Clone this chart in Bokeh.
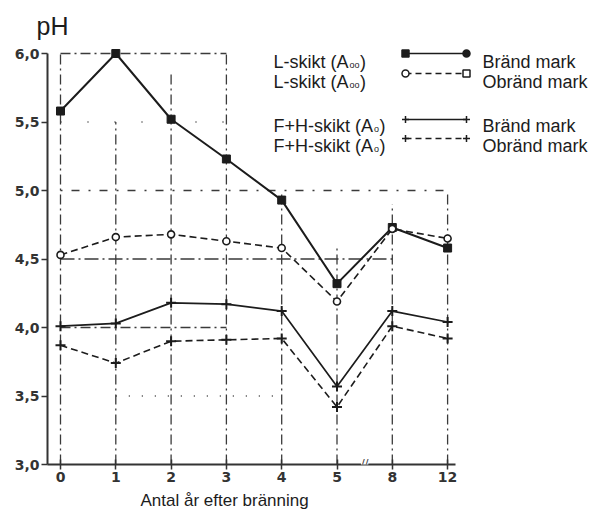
from bokeh.plotting import figure
from bokeh.models import Range1d, FixedTicker, Label, CustomJSTickFormatter, Title
from bokeh.embed import file_html
from bokeh.resources import INLINE

# ---------------- data ----------------
x_labels = ["0", "1", "2", "3", "4", "5", "8", "12"]
l_burnt = [5.58, 6.00, 5.52, 5.23, 4.93, 4.32, 4.73, 4.58]
l_unburnt = [4.53, 4.66, 4.68, 4.63, 4.58, 4.19, 4.72, 4.65]
fh_burnt = [4.01, 4.03, 4.18, 4.17, 4.12, 3.57, 4.12, 4.04]
fh_unburnt = [3.87, 3.74, 3.90, 3.91, 3.92, 3.42, 4.01, 3.92]
y_ticks = [3.0, 3.5, 4.0, 4.5, 5.0, 5.5, 6.0]

legend_left = ["L-skikt (A", "L-skikt (A", "F+H-skikt (A", "F+H-skikt (A"]
legend_sub = ["oo", "oo", "o", "o"]
legend_right = ["Bränd mark", "Obränd mark", "Bränd mark", "Obränd mark"]

# partial (scan-like) grid pieces
hgrid_y = [6.0, 5.5, 5.0, 4.5, 4.0, 3.5]
hgrid_from = [0, 0, 0, 0, 0, 1]
hgrid_to = [3, 3, 7, 6, 3, 4]
hgrid_dash = ["10 4 2 4", "1 26", "2 9 8 9", "14 4 2 4", "10 4 2 4", "1 12"]
vgrid_top = [6.0, 5.5, 5.85, 6.0, 5.0, 4.6, 4.9, 5.0]

# ---------------- layout constants (pixels) ----------------
W, H = 592, 513
FL, FR, FT, FB = 47, 592, 47, 464
X0, DX = 60.0, 55.3
Y0, DY = 3.0, 137.0


def xd(px):
    return (px - X0) / DX


def yd(py):
    return Y0 + (FB - py) / DY


ARIAL = {"L": .556, "-": .333, "s": .5, "k": .5, "i": .222, "t": .278, " ": .278,
         "(": .333, "A": .667, "F": .611, "+": .584, "H": .722, "o": .556, ")": .333}


def tw(s, size):
    return sum(ARIAL[c] for c in s) * size


INK = "#1c1c1c"
xs = list(range(len(x_labels)))

p = figure(width=W, height=H, output_backend="svg", toolbar_location=None,
           x_range=Range1d(xd(FL), xd(FR)), y_range=Range1d(Y0, yd(FT)),
           min_border_left=FL, min_border_right=W - FR, min_border_top=FT,
           min_border_bottom=H - FB)
p.outline_line_color = None
p.grid.visible = False
p.background_fill_color = "white"
p.border_fill_color = "white"

# ---------------- grid ----------------
for xv, top in zip(xs, vgrid_top):
    p.segment(x0=[xv], y0=[Y0], x1=[xv], y1=[top], line_color="#3a3a3a",
              line_width=1.3, line_dash="10 4 2 4")
for yv, a, b, dash in zip(hgrid_y, hgrid_from, hgrid_to, hgrid_dash):
    p.segment(x0=[a], y0=[yv], x1=[b], y1=[yv], line_color="#3a3a3a",
              line_width=1.3, line_dash=dash)

# ---------------- data series ----------------
p.line(xs, l_burnt, line_color=INK, line_width=2)
p.scatter(xs, l_burnt, marker="square", size=8, fill_color=INK, line_color=INK)
p.line(xs, l_unburnt, line_color=INK, line_width=1.6, line_dash="7 4")
p.scatter(xs, l_unburnt, marker="circle", size=7, fill_color="white",
          line_color=INK, line_width=1.6)
p.line(xs, fh_burnt, line_color=INK, line_width=1.7)
p.scatter(xs, fh_burnt, marker="cross", size=10, line_color=INK, line_width=2)
p.line(xs, fh_unburnt, line_color=INK, line_width=1.6, line_dash="7 4")
p.scatter(xs, fh_unburnt, marker="cross", size=10, line_color=INK, line_width=2)

# ---------------- axes ----------------
p.yaxis.ticker = FixedTicker(ticks=y_ticks)
p.yaxis.formatter = CustomJSTickFormatter(code="return tick.toFixed(1).replace('.', ',')")
p.yaxis.bounds = (3.0, 6.0)
p.yaxis.major_tick_out = 6
p.yaxis.major_tick_in = 0
p.yaxis.major_label_standoff = 2

p.xaxis.ticker = FixedTicker(ticks=xs)
p.xaxis.major_label_overrides = {i: lab for i, lab in zip(xs, x_labels)}
p.xaxis.bounds = (xd(FL), xd(455))
p.xaxis.major_tick_out = 5
p.xaxis.major_tick_in = 5
p.xaxis.major_label_standoff = 2

for ax in (p.xaxis[0], p.yaxis[0]):
    ax.minor_tick_line_color = None
    ax.axis_line_width = 2
    ax.axis_line_color = "#333333"
    ax.major_tick_line_color = "#333333"
    ax.major_tick_line_width = 1.5
    ax.major_label_text_font = "DejaVu Sans"
    ax.major_label_text_font_style = "bold"
    ax.major_label_text_font_size = "14px"
    ax.major_label_text_color = "#333333"

# ---------------- titles ----------------
p.title.text = "pH"
p.title.align = "left"
p.title.offset = 36 - FL
p.title.text_font = "Liberation Sans"
p.title.text_font_size = "25px"
p.title.text_font_style = "normal"
p.title.text_color = INK
p.title.standoff = 16

p.add_layout(Title(text="Antal år efter bränning", align="left", offset=140 - FL,
                   text_font="Liberation Sans", text_font_size="17px",
                   text_font_style="normal", text_color=INK, standoff=8), "below")

# axis break mark
p.add_layout(Label(x=5.5, y=yd(FB - 1), text="//", text_align="center", text_baseline="middle",
                   text_font="DejaVu Sans", text_font_size="11px", text_color="#333333",
                   background_fill_color="white"))

# ---------------- legend ----------------
row_sym = [53, 73, 119, 138]
row_base = [61, 81, 125, 145]
sx0, sx1 = 405, 466
left_x, right_x = 273, 482
MAIN, SUB = 18, 9
sym_dash = ["solid", "6 4", "solid", "6 4"]
left_mk = ["square", "circle", "cross", "cross"]
right_mk = ["circle", "square", "cross", "cross"]
mk_fill = [INK, "white", INK, INK]

for i in range(4):
    ys = yd(row_sym[i])
    p.segment(x0=[xd(sx0)], y0=[ys], x1=[xd(sx1)], y1=[ys], line_color=INK,
              line_width=1.6, line_dash=sym_dash[i])
    for mk, px in ((left_mk[i], sx0), (right_mk[i], sx1)):
        p.scatter([xd(px)], [ys], marker=mk, size=7,
                  fill_color=mk_fill[i], line_color=INK, line_width=1.5)
    yb = yd(row_base[i])
    p.add_layout(Label(x=xd(left_x), y=yb, text=legend_left[i], text_font="Liberation Sans",
                       text_font_size=f"{MAIN}px", text_color=INK, text_baseline="alphabetic"))
    xsub = left_x + tw(legend_left[i], MAIN) + 1
    p.add_layout(Label(x=xd(xsub), y=yd(row_base[i] + 3), text=legend_sub[i],
                       text_font="Liberation Sans", text_font_size=f"{SUB}px",
                       text_color=INK, text_baseline="alphabetic"))
    xpar = xsub + tw(legend_sub[i], SUB) + 0.5
    p.add_layout(Label(x=xd(xpar), y=yb, text=")", text_font="Liberation Sans",
                       text_font_size=f"{MAIN}px", text_color=INK, text_baseline="alphabetic"))
    p.add_layout(Label(x=xd(right_x), y=yb, text=legend_right[i], text_font="Liberation Sans",
                       text_font_size=f"{MAIN}px", text_color=INK, text_baseline="alphabetic"))

open("out.html", "w").write(file_html(p, INLINE))
